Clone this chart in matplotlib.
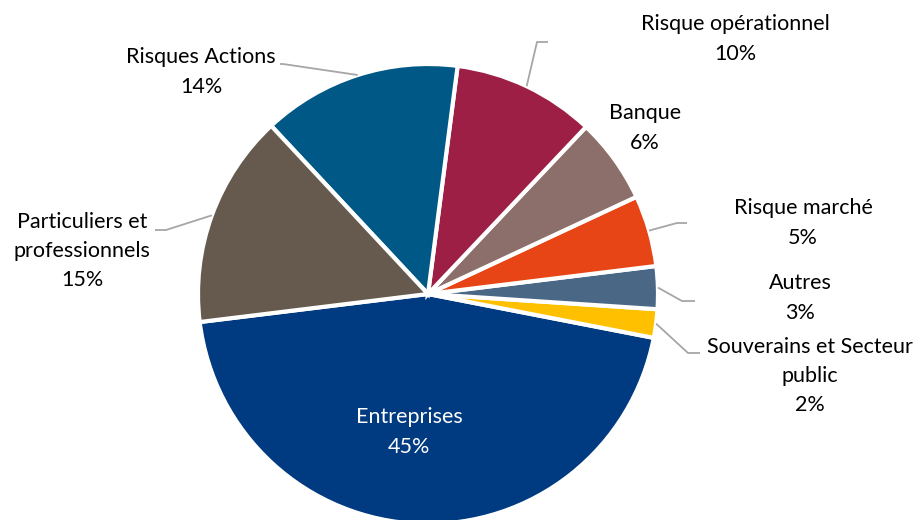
import numpy as np
import matplotlib.pyplot as plt

labels = ['Entreprises', 'Souverains et Secteur\npublic', 'Autres', 'Risque marché',
          'Banque', 'Risque opérationnel', 'Risques Actions', 'Particuliers et\nprofessionnels']
values = [45, 2, 3, 5, 6, 10, 14, 15]
colors = ['#003A80', '#FFC000', '#4A6886', '#E84516', '#8C6E6A', '#9E1F45', '#005886', '#665A4F']

W, H = 919, 520
fig = plt.figure(figsize=(W / 100, H / 100), dpi=100)
ax = fig.add_axes([0, 0, 1, 1])

cx, cy, r = 428, 294, 230
# y axis is flipped (pixel coords), so clockwise in data = counter-clockwise on screen
wedges, _ = ax.pie(values, colors=colors, startangle=173, counterclock=False,
                   center=(cx, cy), radius=r, frame=True,
                   wedgeprops=dict(edgecolor='white', linewidth=3))
ax.set_xlim(0, W)
ax.set_ylim(H, 0)
ax.set_aspect('equal')
ax.axis('off')

# label text centre and leader line (elbow, end) per slice; None = no leader
layout = {
    'Entreprises': ((409, 432), None),
    'Souverains et Secteur\npublic': ((810, 376), ((688, 353), (700, 353))),
    'Autres': ((800, 298), ((682, 301), (695, 301))),
    'Risque marché': ((803, 223), ((677, 223), (687, 223))),
    'Banque': ((645, 128), None),
    'Risque opérationnel': ((735, 39), ((537, 42), (548, 42))),
    'Risques Actions': ((201, 72), ((283, 64), (280, 64))),
    'Particuliers et\nprofessionnels': ((82, 251), ((166, 230), (155, 230))),
}

font = ['Lato', 'DejaVu Sans']
for w, lab, v in zip(wedges, labels, values):
    (tx, ty), lead = layout[lab]
    col = 'white' if lab == 'Entreprises' else '#000000'
    ax.text(tx, ty, f'{lab}\n{v}%', ha='center', va='center', fontsize=15.5,
            color=col, family=font, linespacing=1.58)
    if lead is not None:
        ang = np.deg2rad((w.theta1 + w.theta2) / 2)
        sx, sy = cx + r * np.cos(ang), cy + r * np.sin(ang)
        (ex, ey), (fx, fy) = lead
        ax.plot([sx, ex, fx], [sy, ey, fy], color='#A6A6A6', lw=1.3, solid_capstyle='butt')

fig.savefig('out.png', dpi=100)
